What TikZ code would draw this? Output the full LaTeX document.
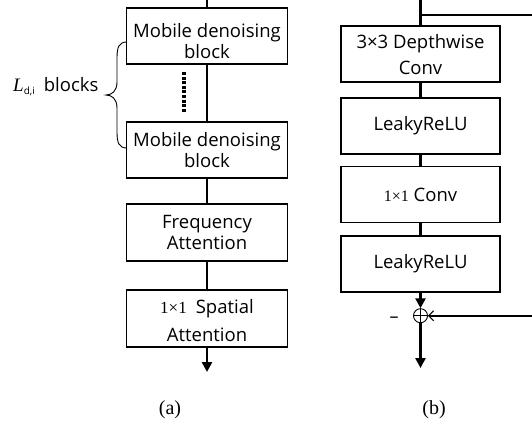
\documentclass[tikz,border=0pt]{standalone}
\usepackage{fontspec}
\setmainfont{Open Sans}
\newfontfamily\tnr{Liberation Serif}
\usetikzlibrary{arrows.meta}
\begin{document}
\begin{tikzpicture}[x=1pt,y=-1pt,
  blk/.style={draw, line width=1.1pt, minimum height=56pt, inner sep=1pt, align=center, font=\fontsize{18.5}{21.5}\selectfont},
  lblk/.style={blk, minimum width=161pt},
  rblk/.style={blk, minimum width=159pt},
  flow/.style={line width=2.6pt},
  arr/.style={flow, -{Triangle[width=10pt,length=10pt]}},
  captxt/.style={font=\tnr\fontsize{20}{20}\selectfont},
]
\useasboundingbox (0,0) rectangle (532,429);
% left column
\coordinate (ltop) at (207,0);
\node[lblk] (a1) at (207,36) {\rule{0pt}{24pt}Mobile denoising\\block};
\node[lblk] (a2) at (207,150) {Mobile denoising\\block};
\node[lblk, minimum height=57pt] (a3) at (207,232.5) {Frequency\\[-0.5pt]Attention};
\node[lblk, minimum height=57pt] (a4) at (207,318.5) {\rule{0pt}{19pt}{\tnr\fontsize{17}{17}\selectfont 1×1}\hspace{9pt}Spatial\\[6.5pt]Attention};
\coordinate (lout) at (207,372);
\draw[flow] (ltop) -- (a1.north);
\draw[flow] (a1.south) -- (a2.north);
\draw[flow] (a2.south) -- (a3.north);
\draw[flow] (a3.south) -- (a4.north);
\draw[arr] (a4.south) -- (lout);
% dots
\coordinate (d1) at (184,72);
\coordinate (d2) at (184,113);
\draw[line width=3.6pt, dash pattern=on 3pt off 1.6pt] (d1) -- (d2);
% brace
\draw[line width=0.9pt] (127,42) .. controls (119,42) and (117,47) .. (117,58) -- (117,82)
  .. controls (117,91) and (112,95) .. (106,95)
  .. controls (112,95) and (117,99) .. (117,108) -- (117,132)
  .. controls (117,143) and (119,148) .. (127,148);
\node[anchor=base west, inner sep=0, font=\fontsize{18.5}{18}\selectfont] (lab) at (13,91.7)
  {{\tnr\itshape\fontsize{19}{19}\selectfont L}\raisebox{-2.5pt}{\fontsize{10}{10}\selectfont d,i}\hspace{9pt}blocks};
\node[captxt] (capa) at (170,410) {(a)};
% right column
\coordinate (rtop) at (420.5,0);
\coordinate (rbr) at (420.5,15);
\coordinate (rright) at (532,15);
\node[rblk] (b1) at (420.5,54) {\rule{0pt}{16pt}3×3 Depthwise\\[4.5pt]Conv};
\node[rblk] (b2) at (420.5,126) {LeakyReLU};
\node[rblk, minimum height=55.5pt] (b3) at (420.5,194.5) {{\tnr\fontsize{16}{16}\selectfont 1×1} Conv};
\node[rblk] (b4) at (420.5,264) {LeakyReLU};
\node[draw, circle, line width=0.9pt, minimum size=14pt, inner sep=0] (c) at (420.5,315.7) {};
\draw[line width=0.7pt] (c.north) -- (c.south) (c.west) -- (c.east);
\coordinate (rin) at (532,315.7);
\coordinate (rout) at (420.5,368);
\draw[flow] (rtop) -- (b1.north);
\draw[line width=1.3pt] (rbr) -- (rright);
\draw[flow] (b1.south) -- (b2.north);
\draw[flow] (b2.south) -- (b3.north);
\draw[flow] (b3.south) -- (b4.north);
\draw[arr] (b4.south) -- (c.north);
\draw[arr] (c.south) -- (rout);
\draw[line width=2pt, -{Straight Barb[length=5pt,width=10pt,line width=1pt]}] (rin) -- (c.east);
\node[font=\fontsize{18}{18}\selectfont, inner sep=0] (minus) at (394,320) {–};
\node[captxt] (capb) at (434,410) {(b)};
\end{tikzpicture}
\end{document}
